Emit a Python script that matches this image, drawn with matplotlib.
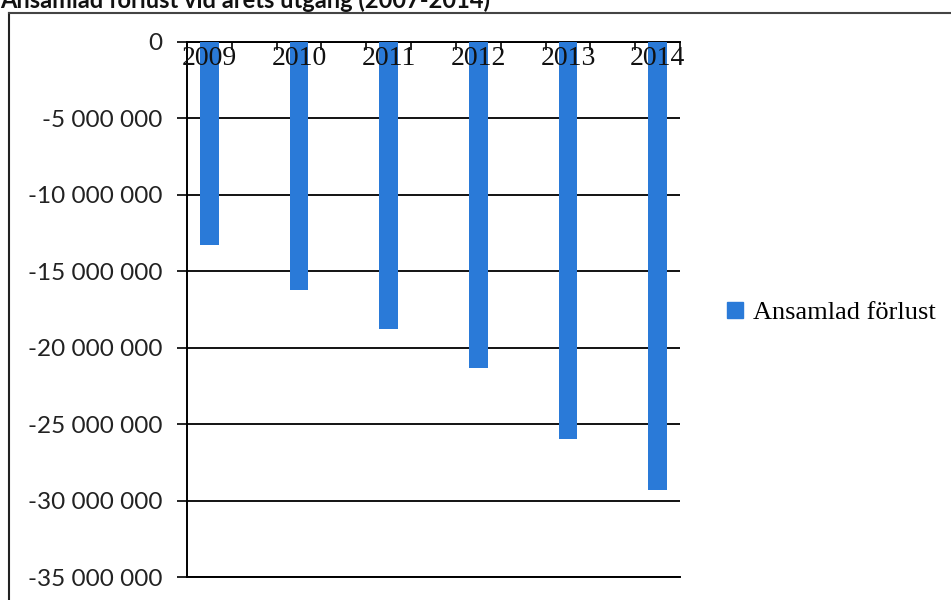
import matplotlib.pyplot as plt
from matplotlib.lines import Line2D
from matplotlib.patches import Patch
import matplotlib.ticker as mticker

# Data
years = ["2009", "2010", "2011", "2012", "2013", "2014"]
loss = [-13_300_000, -16_200_000, -18_800_000, -21_300_000, -26_000_000, -29_300_000]
y_ticks = [0, -5_000_000, -10_000_000, -15_000_000, -20_000_000, -25_000_000, -30_000_000, -35_000_000]

bar_color = "#2A7AD8"

fig = plt.figure(figsize=(9.51, 6.0), dpi=100)
ax = fig.add_axes([187 / 951, 1 - 577 / 600, (680 - 187) / 951, (577 - 42) / 600])

x = list(range(len(years)))
ax.bar(x, loss, width=0.21, color=bar_color, zorder=3, label="Ansamlad förlust")

ax.set_xlim(-0.25, len(years) - 0.75)
ax.set_ylim(-35_000_000, 0)

# year labels sit just under the zero line
for xi, yr in zip(x, years):
    ax.text(xi, -1_050_000, yr, ha="center", va="center",
            family="Liberation Serif", fontsize=20, color="#111111", zorder=4)

# y axis: space as thousands separator
ax.set_yticks(y_ticks)
ax.yaxis.set_major_formatter(mticker.FuncFormatter(lambda v, p: f"{int(v):,}".replace(",", " ")))
for lab in ax.get_yticklabels():
    lab.set_family("Lato")
    lab.set_fontsize(17.5)
    lab.set_color("#222222")
ax.tick_params(axis="y", direction="out", length=7, width=1.2, color="black", pad=11)

# x ticks at the zero line, pointing down into the plot
ax.xaxis.tick_top()
ax.set_xticks([i * 0.5 - 0.25 for i in range(12)])
ax.set_xticklabels([])
ax.tick_params(axis="x", direction="in", length=6, width=1.2, color="black")

ax.grid(axis="y", color="black", linewidth=1.3, zorder=1)
for side in ["top", "bottom", "left"]:
    ax.spines[side].set_color("black")
    ax.spines[side].set_linewidth(1.4)
ax.spines["right"].set_visible(False)

# legend on the right
fig.legend(handles=[Patch(color=bar_color)], labels=["Ansamlad förlust"],
           loc="center left", bbox_to_anchor=(703 / 951, 1 - 313 / 600),
           frameon=False, handlelength=0.6, handleheight=0.6, handletextpad=0.4,
           prop={"family": "Liberation Serif", "size": 19})

# outer frame of the scanned chart
fig.add_artist(Line2D([9 / 951, 9 / 951], [0, 1 - 13 / 600], transform=fig.transFigure,
                      color="#222222", linewidth=1.5))
fig.add_artist(Line2D([9 / 951, 1], [1 - 13 / 600, 1 - 13 / 600], transform=fig.transFigure,
                      color="#444444", linewidth=1.5))

# title, partly cut off at the top as in the scan
fig.text(0.0, 1 - 8 / 600, "Ansamlad förlust vid årets utgång (2007-2014)",
         ha="left", va="baseline", family="Lato", fontweight="bold",
         fontsize=17, color="#111111")

fig.savefig("out.png", dpi=100)
